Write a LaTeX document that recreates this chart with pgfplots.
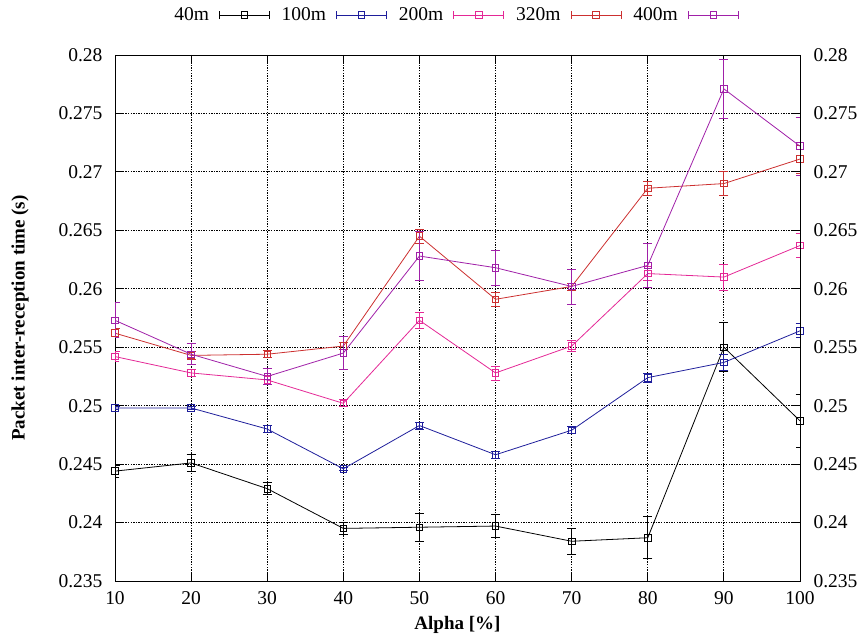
\documentclass[border=0pt]{standalone}
\usepackage{pgfplots}
\pgfplotsset{compat=1.18}
\usepackage{fontspec}
\setmainfont{Liberation Serif}
\definecolor{cblue}{RGB}{30,30,155}
\definecolor{cpink}{RGB}{228,40,150}
\definecolor{cred}{RGB}{204,48,48}
\definecolor{cpurple}{RGB}{160,32,168}
\begin{document}
\fontsize{19}{22}\selectfont
\begin{tikzpicture}
\useasboundingbox (0,0) rectangle (865pt,642pt);
\pgfplotsset{
  mystyle/.style={
    scale only axis, width=685pt, height=526pt,
    at={(115pt,61pt)}, anchor=south west,
    xmin=10, xmax=100, ymin=0.235, ymax=0.28,
    xtick={10,20,...,100},
    ytick={0.235,0.24,0.245,0.25,0.255,0.26,0.265,0.27,0.275,0.28},
    yticklabels={0.235,0.24,0.245,0.25,0.255,0.26,0.265,0.27,0.275,0.28},
    tick align=inside, major tick length=9pt,
    tick style={black, line width=0.8pt},
    axis line style={black, line width=0.9pt},
    /pgf/number format/assume math mode=true,
    tick label style={font=\fontsize{19.5}{22}\selectfont},
  }
}
\begin{axis}[mystyle,
  xtick pos=both, ytick pos=both,
  grid=major,
  grid style={black, line width=0.8pt, dash pattern=on 1.3pt off 1.3pt},
  xticklabel style={yshift=-4pt},
  yticklabel style={xshift=-6pt},
  xlabel={\textbf{Alpha [\%]}},
  ylabel={\textbf{Packet inter-reception time (s)}},
  every axis x label/.style={at={(axis description cs:0.5,-0.0837)}, anchor=center},
  every axis y label/.style={at={(axis description cs:-0.1387,0.5)}, rotate=90, anchor=center},
  label style={font=\fontsize{19}{22}\selectfont},
  legend style={at={(axis description cs:0.497,1.076)}, anchor=center, draw=none, fill=none,
    font=\fontsize{19.5}{22}\selectfont, legend columns=-1,
    /tikz/every even column/.append style={column sep=4pt},
    /tikz/every odd column/.append style={column sep=4pt}},
  legend plot pos=right,
  legend image code/.code={
    \draw[#1] (0pt,0pt) -- (50pt,0pt);
    \draw[#1] (0pt,-4pt) -- (0pt,4pt) (50pt,-4pt) -- (50pt,4pt);
    \draw[#1, only marks] plot coordinates {(25pt,0pt)};
  },
  every axis plot/.append style={line width=0.8pt, mark=square, mark size=3.3pt,
    mark options={solid, line width=0.8pt}},
  error bars/y dir=both, error bars/y explicit,
  error bars/error mark options={rotate=90, mark size=4.5pt, line width=0.8pt},
  error bars/error bar style={line width=0.8pt},
]
\addplot[black] table[x=x, y=y, y error=e] {
x y e
10 0.2444 0.0005
20 0.2451 0.0007
30 0.2429 0.0005
40 0.2395 0.0005
50 0.2396 0.0012
60 0.2397 0.0010
70 0.2384 0.0011
80 0.2387 0.0018
90 0.2550 0.0021
100 0.2487 0.0023
};
\addlegendentry{40m\kern4pt}
\addplot[cblue] table[x=x, y=y, y error=e] {
x y e
10 0.2498 0.0001
20 0.2498 0.0001
30 0.2480 0.0003
40 0.2446 0.0001
50 0.2483 0.0003
60 0.2458 0.0003
70 0.2479 0.0003
80 0.2524 0.0004
90 0.2537 0.0007
100 0.2564 0.0006
};
\addlegendentry{\kern6pt 100m\kern4pt}
\addplot[cpink] table[x=x, y=y, y error=e] {
x y e
10 0.2542 0.0004
20 0.2528 0.0003
30 0.2522 0.0004
40 0.2502 0.0003
50 0.2573 0.0007
60 0.2528 0.0006
70 0.2551 0.0005
80 0.2613 0.0006
90 0.2610 0.0011
100 0.2637 0.0010
};
\addlegendentry{\kern6pt 200m\kern4pt}
\addplot[cred] table[x=x, y=y, y error=e] {
x y e
10 0.2562 0.0004
20 0.2543 0.0003
30 0.2544 0.0003
40 0.2551 0.0003
50 0.2645 0.0006
60 0.2591 0.0006
70 0.2602 0.0003
80 0.2686 0.0006
90 0.2690 0.0010
100 0.2711 0.0012
};
\addlegendentry{\kern6pt 320m\kern4pt}
\addplot[cpurple] table[x=x, y=y, y error=e] {
x y e
10 0.2573 0.0015
20 0.2544 0.0009
30 0.2525 0.0007
40 0.2545 0.0014
50 0.2628 0.0021
60 0.2618 0.0015
70 0.2602 0.0015
80 0.2620 0.0019
90 0.2771 0.0025
100 0.2722 0.0025
};
\addlegendentry{\kern6pt 400m\kern4pt}
\end{axis}
\begin{axis}[mystyle,
  hide x axis, axis y line*=right, ytick pos=right, yticklabel pos=right,
  yticklabel style={xshift=7pt},
  axis line style={black, line width=0.9pt},
]
\addplot[draw=none] coordinates {(10,0.25)};
\end{axis}
\end{tikzpicture}
\end{document}
